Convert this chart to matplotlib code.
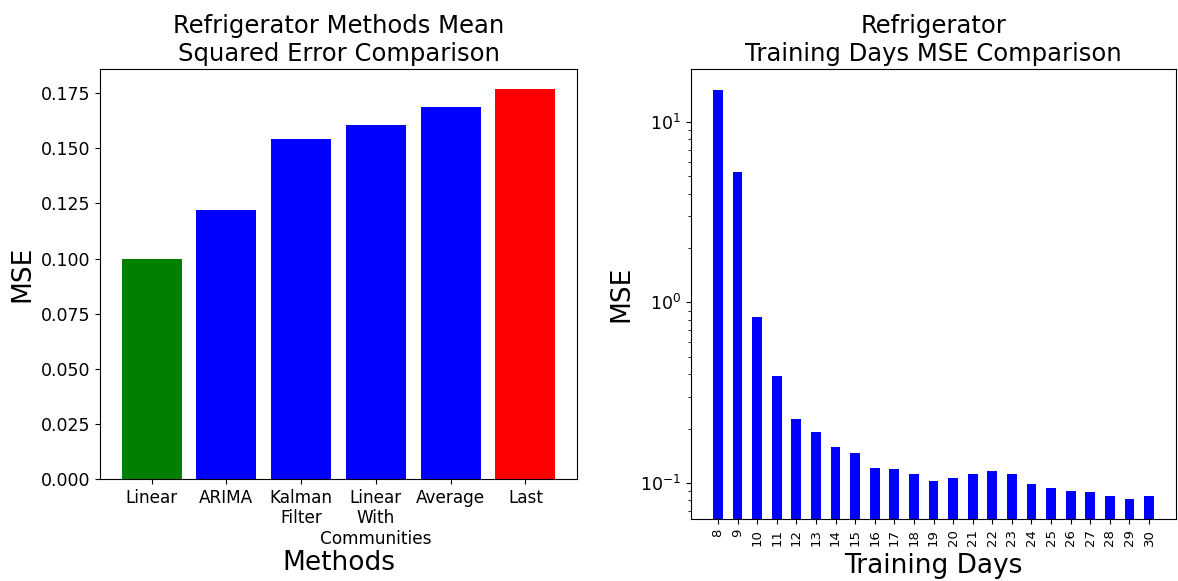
import matplotlib
matplotlib.use("Agg")
import matplotlib.pyplot as plt

# left panel: MSE per method
methods = ["Linear", "ARIMA", "Kalman\nFilter", "Linear\nWith\nCommunities", "Average", "Last"]
method_mse = [0.0996, 0.1220, 0.1541, 0.1607, 0.1688, 0.1770]
method_colors = ["green", "blue", "blue", "blue", "blue", "red"]

# right panel: MSE per number of training days
training_days = list(range(8, 31))
days_mse = [15.0, 5.25, 0.832, 0.391, 0.227, 0.192, 0.159, 0.146, 0.121, 0.119,
            0.112, 0.102, 0.107, 0.112, 0.116, 0.112, 0.098, 0.094, 0.090, 0.0887,
            0.085, 0.0814, 0.085]

fig = plt.figure(figsize=(11.78, 5.81), dpi=100)

ax1 = fig.add_axes([0.0849, 0.1756, 0.4049, 0.7051])
pos = list(range(len(methods)))
ax1.bar(pos, method_mse, width=0.8, color=method_colors)
ax1.set_xticks(pos)
ax1.set_xticklabels(methods, fontsize=12.2)
ax1.tick_params(axis="y", labelsize=12.5)
ax1.set_xlabel("Methods", fontsize=19, labelpad=1)
ax1.set_ylabel("MSE", fontsize=19)
ax1.set_title("Refrigerator Methods Mean\nSquared Error Comparison", fontsize=17.5)

ax2 = fig.add_axes([0.5866, 0.1067, 0.4117, 0.774])
pos2 = list(range(len(training_days)))
ax2.bar(pos2, days_mse, width=0.5, color="blue")
ax2.set_yscale("log")
ax2.set_ylim(10 ** -1.2, 10 ** 1.29)
ax2.set_xticks(pos2)
ax2.set_xticklabels([str(d) for d in training_days], rotation=90, fontsize=9.5)
ax2.tick_params(axis="y", labelsize=12.5)
ax2.set_xlabel("Training Days", fontsize=19, labelpad=5)
ax2.set_ylabel("MSE", fontsize=19)
ax2.set_title("Refrigerator\nTraining Days MSE Comparison", fontsize=17.5)

fig.savefig("out.png", dpi=100)
